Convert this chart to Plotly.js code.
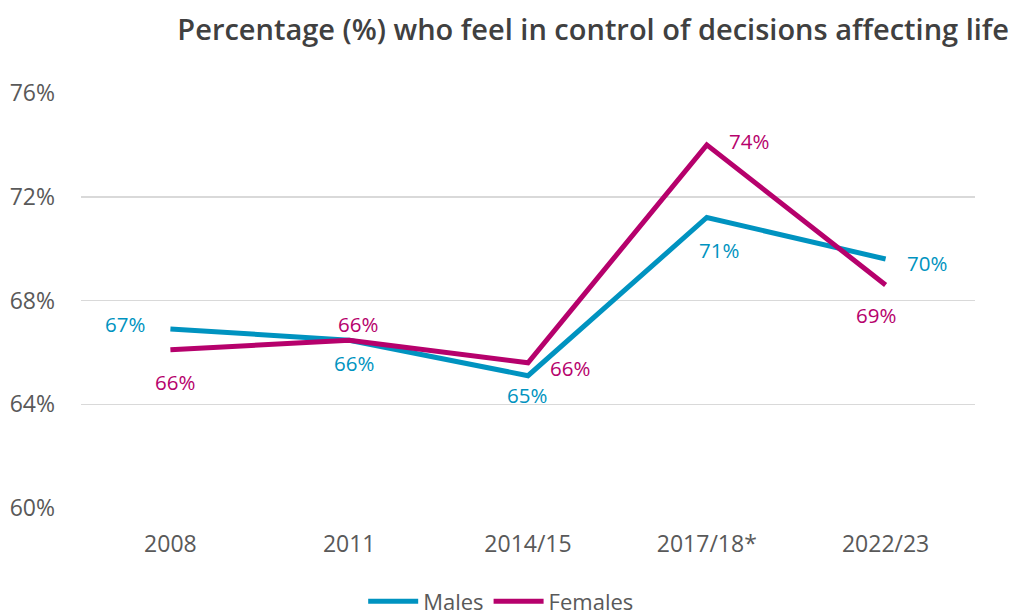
<!DOCTYPE html>
<html><head><meta charset="utf-8">
<script src="https://cdn.plot.ly/plotly-3.0.1.min.js"></script>
<style>html,body{margin:0;padding:0;background:#fff;}#chart{width:1021px;height:615px;}</style>
</head><body><div id="chart"></div>
<script>
const categories = ['2008', '2011', '2014/15', '2017/18*', '2022/23'];
const males = [66.9, 66.47, 65.1, 71.2, 69.6];
const females = [66.1, 66.47, 65.6, 74.0, 68.6];
const yTicks = [60, 64, 68, 72, 76];

const maleColor = '#0093C0';
const femaleColor = '#B6016C';
const maleOffsets = [[-45, 5], [5, -23], [-1, -19], [12, -32], [41, -4]];
const femaleOffsets = [[5, -32], [9, 16], [42, -5], [42, 4], [-10, -30]];

function makeAnn(vals, offs, color) {
  return vals.map((v, i) => ({
    x: i, y: v, xref: 'x', yref: 'y',
    text: Math.round(v) + '%', showarrow: false,
    xshift: offs[i][0], yshift: offs[i][1],
    font: {family: 'Open Sans', size: 20.5, color: color}
  }));
}

const traces = [
  {x: categories, y: males, name: 'Males', type: 'scatter', mode: 'lines',
   line: {color: maleColor, width: 5}},
  {x: categories, y: females, name: 'Females', type: 'scatter', mode: 'lines',
   line: {color: femaleColor, width: 5}}
];

const layout = {
  width: 1021, height: 615,
  margin: {l: 81, r: 46, t: 93, b: 107, autoexpand: false},
  paper_bgcolor: '#fff', plot_bgcolor: '#fff',
  font: {family: 'Open Sans', color: '#595959', size: 20},
  title: {text: 'Percentage (%) who feel in control of decisions affecting life',
    font: {family: 'Open Sans', size: 29, color: '#404040', weight: 600},
    x: 0.581, xanchor: 'center', y: 0.951, yanchor: 'middle'},
  xaxis: {type: 'category', range: [-0.5, 4.5], showgrid: false, zeroline: false,
    showline: false, ticks: '', tickfont: {size: 23, color: '#595959'}, ticklabelstandoff: 20},
  yaxis: {range: [60, 76], tickvals: yTicks, ticktext: yTicks.map(t => t + '%'),
    showgrid: true, gridcolor: '#d9d9d9', gridwidth: 1.5, zeroline: false, showline: false,
    ticks: '', tickfont: {size: 23, color: '#595959'}, ticklabelstandoff: 25},
  showlegend: true,
  legend: {orientation: 'h', x: 0.47, xanchor: 'center', yref: 'container', y: 0.022, yanchor: 'middle',
    font: {size: 22, color: '#595959'}, itemwidth: 50, tracegroupgap: 0},
  annotations: makeAnn(males, maleOffsets, maleColor).concat(makeAnn(females, femaleOffsets, femaleColor))
};

Plotly.newPlot('chart', traces, layout, {displayModeBar: false, staticPlot: true});
</script></body></html>
